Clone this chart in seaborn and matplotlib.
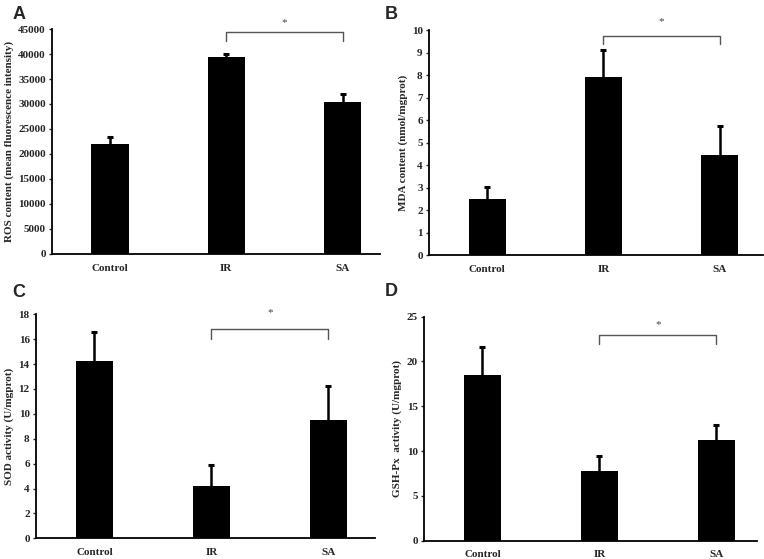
import numpy as np
import pandas as pd
import matplotlib
matplotlib.use("Agg")
import matplotlib.pyplot as plt
import seaborn as sns

# group names
groups = ["Control", "IR", "SA"]

# panel A - ROS
ros_mean = [22000, 39500, 30400]
ros_err = [1300, 600, 1500]
# panel B - MDA
mda_mean = [2.5, 7.9, 4.45]
mda_err = [0.52, 1.2, 1.3]
# panel C - SOD
sod_mean = [14.25, 4.2, 9.5]
sod_err = [2.35, 1.7, 2.75]
# panel D - GSH-Px
gsh_mean = [18.5, 7.8, 11.2]
gsh_err = [3.1, 1.7, 1.75]

sns.set_style("ticks")
plt.rcParams['font.family'] = ['Liberation Serif', 'DejaVu Serif']

fig = plt.figure(figsize=(7.64, 5.59), dpi=100)

panels = [
    # letter, means, errs, ylabel, ymax, ystep, axes rect, xright, bracket (y, leg), star y, letter pos
    ("A", ros_mean, ros_err, "ROS content (mean fluorescence intensity)", 45000, 5000,
     [0.068, 0.546, 0.429, 0.402], 2.32, (44460, 42660), 46200, (0.016, 0.990)),
    ("B", mda_mean, mda_err, "MDA content (nmol/mgprot)", 10, 1,
     [0.5615, 0.543, 0.437, 0.403], 2.37, (9.76, 9.39), 10.38, (0.503, 0.990)),
    ("C", sod_mean, sod_err, "SOD activity (U/mgprot)", 18, 2,
     [0.047, 0.037, 0.444, 0.4007], 2.4, (16.8, 16.04), 18.1, (0.016, 0.492)),
    ("D", gsh_mean, gsh_err, "GSH-Px  activity (U/mgprot)", 25, 5,
     [0.555, 0.0327, 0.436, 0.4008], 2.35, (22.95, 21.9), 24.15, (0.503, 0.494)),
]

for letter, means, errs, ylab, ymax, ystep, rect, xr, brk, stary, lpos in panels:
    ax = fig.add_axes(rect)
    df = pd.DataFrame({"group": groups, "value": means})
    sns.barplot(data=df, x="group", y="value", color="black", width=0.32,
                saturation=1, edgecolor="black", linewidth=0, ax=ax)

    # upward-only error bars
    x = np.arange(len(groups))
    tops = np.array(means) + np.array(errs)
    ax.vlines(x, means, tops, color="black", lw=1.8)
    ax.plot(x, tops, ls="none", marker="_", ms=4, mew=2.2, color="black")

    # significance bracket IR vs SA
    by, bl = brk
    ax.plot([1, 1, 2, 2], [bl, by, by, bl], color="#555555", lw=1.0,
            clip_on=False)
    ax.text(1.5, stary, "*", ha="center", va="center", fontsize=8,
            color="#444444", clip_on=False)

    ax.set_xlim(-0.5, xr)
    ax.set_ylim(0, ymax)
    ax.set_yticks(np.arange(0, ymax + ystep / 2, ystep))
    ax.set_xlabel("")
    ax.set_ylabel(ylab, fontsize=8, fontweight="bold", labelpad=3)
    ax.tick_params(axis="x", length=0, labelsize=8, pad=7)
    ax.tick_params(axis="y", length=2.5, width=1, labelsize=8, pad=2)
    for lab in ax.get_xticklabels() + ax.get_yticklabels():
        lab.set_fontweight("bold")
    for s in ["top", "right"]:
        ax.spines[s].set_visible(False)
    for s in ["left", "bottom"]:
        ax.spines[s].set_linewidth(1.3)
        ax.spines[s].set_color("black")

    fig.text(lpos[0], lpos[1], letter, fontsize=13, fontweight="bold",
             family=["Liberation Sans", "DejaVu Sans"], va="top", ha="left")

fig.savefig("out.png", dpi=100)
